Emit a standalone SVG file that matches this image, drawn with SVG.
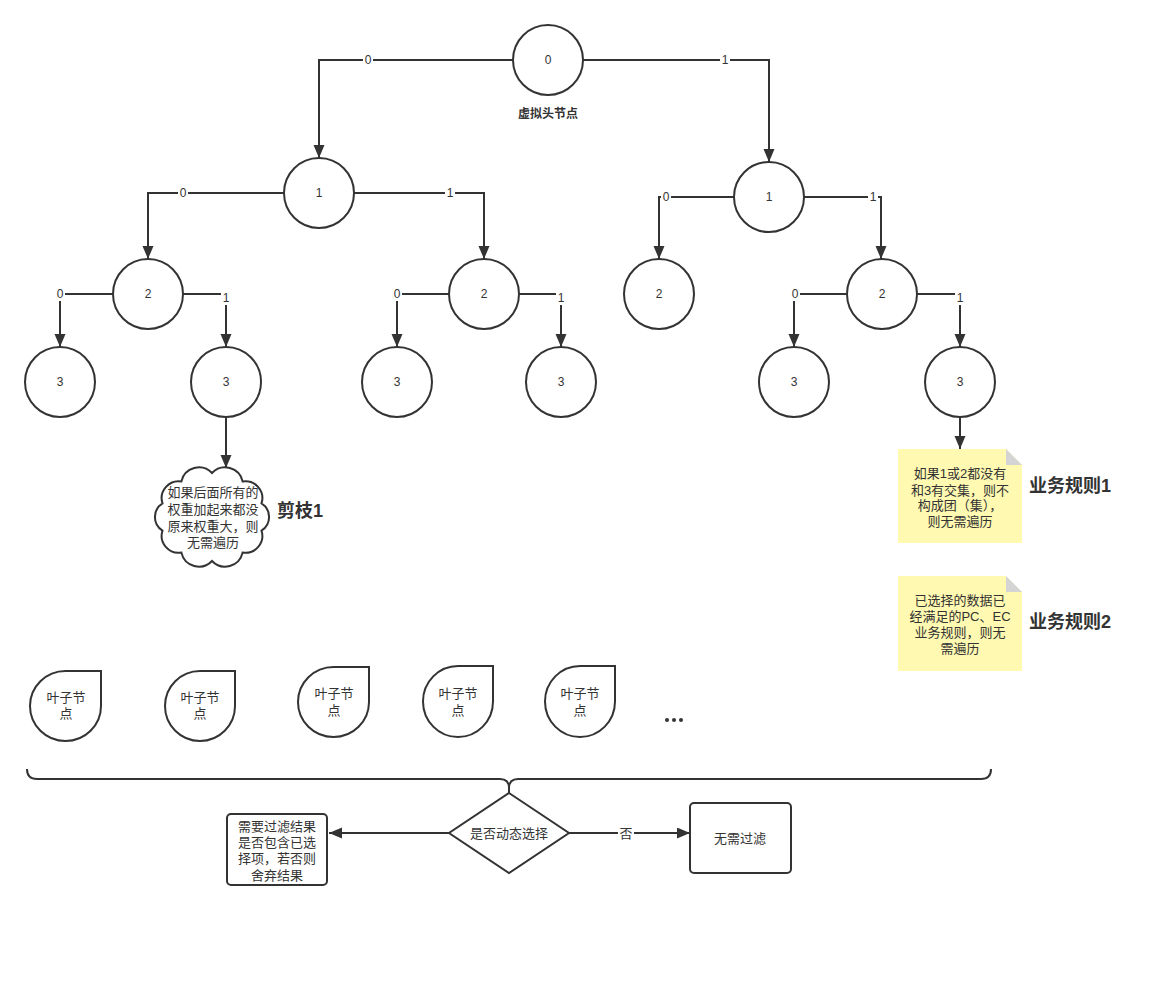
<svg xmlns="http://www.w3.org/2000/svg" width="1156" height="997" viewBox="0 0 1156 997">
<defs>
<style>
text{font-family:"Liberation Sans","Noto Sans CJK SC",sans-serif;fill:#333;dominant-baseline:central;text-anchor:middle}
.t{font-size:13px}
.n{font-size:12px}
.b{font-size:18px;font-weight:bold}
.shape{fill:#fff;stroke:#333;stroke-width:2}
.edge{fill:none;stroke:#333;stroke-width:2}
.lbl{font-size:12px}
.lb{fill:#fff}
.note{fill:#fff9b1}
.fold{fill:#d4d4d4}
</style>
<marker id="arr" markerUnits="userSpaceOnUse" markerWidth="14" markerHeight="12" refX="13" refY="5.5" orient="auto">
<path d="M0,0 L13,5.5 L0,11 Z" fill="#333"/>
</marker>
</defs>
<rect width="1156" height="997" fill="#fff"/>

<g id="connectors">
<path class="edge" d="M513,60 L319,60 L319,158" marker-end="url(#arr)"/>
<path class="edge" d="M583,60 L769,60 L769,162" marker-end="url(#arr)"/>
<path class="edge" d="M284,193 L148,193 L148,259" marker-end="url(#arr)"/>
<path class="edge" d="M354,193 L484,193 L484,259" marker-end="url(#arr)"/>
<path class="edge" d="M734,197 L659,197 L659,259" marker-end="url(#arr)"/>
<path class="edge" d="M804,197 L881,197 L881,259" marker-end="url(#arr)"/>
<path class="edge" d="M113,294 L60,294 L60,347" marker-end="url(#arr)"/>
<path class="edge" d="M183,294 L226,294 L226,347" marker-end="url(#arr)"/>
<path class="edge" d="M449,294 L397,294 L397,347" marker-end="url(#arr)"/>
<path class="edge" d="M519,294 L561,294 L561,347" marker-end="url(#arr)"/>
<path class="edge" d="M847,294 L794,294 L794,347" marker-end="url(#arr)"/>
<path class="edge" d="M917,294 L960,294 L960,347" marker-end="url(#arr)"/>
<path class="edge" d="M226,417 L226,468" marker-end="url(#arr)"/>
<path class="edge" d="M960,417 L960,449" marker-end="url(#arr)"/>
<path class="edge" d="M449,833 L329,833" marker-end="url(#arr)"/>
<path class="edge" d="M569,833 L690,833" marker-end="url(#arr)"/>
<g id="edge-labels">
<rect class="lb" x="363" y="53" width="10" height="14"/><text class="lbl" x="368" y="60">0</text>
<rect class="lb" x="720" y="53" width="10" height="14"/><text class="lbl" x="725" y="60">1</text>
<rect class="lb" x="178" y="186" width="10" height="14"/><text class="lbl" x="183" y="193">0</text>
<rect class="lb" x="445" y="186" width="10" height="14"/><text class="lbl" x="450" y="193">1</text>
<rect class="lb" x="661" y="190" width="10" height="14"/><text class="lbl" x="666" y="197">0</text>
<rect class="lb" x="868" y="190" width="10" height="14"/><text class="lbl" x="873" y="197">1</text>
<rect class="lb" x="55" y="287" width="10" height="14"/><text class="lbl" x="60" y="294">0</text>
<rect class="lb" x="221" y="291" width="10" height="14"/><text class="lbl" x="226" y="298">1</text>
<rect class="lb" x="392" y="287" width="10" height="14"/><text class="lbl" x="397" y="294">0</text>
<rect class="lb" x="556" y="291" width="10" height="14"/><text class="lbl" x="561" y="298">1</text>
<rect class="lb" x="790" y="287" width="10" height="14"/><text class="lbl" x="795" y="294">0</text>
<rect class="lb" x="955" y="291" width="10" height="14"/><text class="lbl" x="960" y="298">1</text>
<rect class="lb" x="618" y="825" width="16" height="16"/><text class="t" x="626" y="833">否</text>
</g>
</g>

<g id="n0"><circle class="shape" cx="548" cy="60" r="35"/><text class="n" x="548" y="60">0</text></g>
<g id="n0-label"><text x="548" y="114" style="font-size:12px;font-weight:bold">虚拟头节点</text></g>
<g id="n1a"><circle class="shape" cx="319" cy="193" r="35"/><text class="n" x="319" y="193">1</text></g>
<g id="n1b"><circle class="shape" cx="769" cy="197" r="35"/><text class="n" x="769" y="197">1</text></g>
<g id="n2a"><circle class="shape" cx="148" cy="294" r="35"/><text class="n" x="148" y="294">2</text></g>
<g id="n2b"><circle class="shape" cx="484" cy="294" r="35"/><text class="n" x="484" y="294">2</text></g>
<g id="n2c"><circle class="shape" cx="659" cy="294" r="35"/><text class="n" x="659" y="294">2</text></g>
<g id="n2d"><circle class="shape" cx="882" cy="294" r="35"/><text class="n" x="882" y="294">2</text></g>
<g id="n3a"><circle class="shape" cx="60" cy="382" r="35"/><text class="n" x="60" y="382">3</text></g>
<g id="n3b"><circle class="shape" cx="226" cy="382" r="35"/><text class="n" x="226" y="382">3</text></g>
<g id="n3c"><circle class="shape" cx="397" cy="382" r="35"/><text class="n" x="397" y="382">3</text></g>
<g id="n3d"><circle class="shape" cx="561" cy="382" r="35"/><text class="n" x="561" y="382">3</text></g>
<g id="n3e"><circle class="shape" cx="794" cy="382" r="35"/><text class="n" x="794" y="382">3</text></g>
<g id="n3f"><circle class="shape" cx="960" cy="382" r="35"/><text class="n" x="960" y="382">3</text></g>

<g id="cloud">
<path class="shape" d="M212,473 A18,18 0 0 1 242.6,481.4 A17,17 0 0 1 261.5,503.4 A16,16 0 0 1 261.5,530.6 A17,17 0 0 1 242.6,552.6 A18,18 0 0 1 212,561 A18,18 0 0 1 181.4,552.6 A17,17 0 0 1 162.5,530.6 A16,16 0 0 1 162.5,503.4 A17,17 0 0 1 181.4,481.4 A18,18 0 0 1 212,473 Z"/>
<text class="t" x="213" y="492">如果后面所有的</text>
<text class="t" x="213" y="509">权重加起来都没</text>
<text class="t" x="213" y="526">原来权重大，则</text>
<text class="t" x="213" y="542">无需遍历</text>
</g>
<g id="prune1"><text class="b" x="300" y="511">剪枝1</text></g>

<g id="note1">
<path class="note" d="M898,449 L1006,449 L1022,465 L1022,543 L898,543 Z"/>
<path class="fold" d="M1006,449 L1022,465 L1006,465 Z"/>
<text class="t" x="960" y="473">如果1或2都没有</text>
<text class="t" x="960" y="490">和3有交集，则不</text>
<text class="t" x="960" y="505">构成团（集），</text>
<text class="t" x="960" y="521">则无需遍历</text>
</g>
<g id="rule1"><text class="b" x="1070" y="486">业务规则1</text></g>

<g id="note2">
<path class="note" d="M898,576 L1006,576 L1022,592 L1022,671 L898,671 Z"/>
<path class="fold" d="M1006,576 L1022,592 L1006,592 Z"/>
<text class="t" x="960" y="600">已选择的数据已</text>
<text class="t" x="960" y="616">经满足的PC、EC</text>
<text class="t" x="960" y="632">业务规则，则无</text>
<text class="t" x="960" y="648">需遍历</text>
</g>
<g id="rule2"><text class="b" x="1070" y="622">业务规则2</text></g>

<g id="leaf1"><path class="shape" d="M101,671 L101,706 A35.5,35 0 0 1 65.5,741 A35.5,35 0 0 1 30,706 A35.5,35 0 0 1 65.5,671 Z"/><text class="t" x="66" y="697">叶子节</text><text class="t" x="66" y="713">点</text></g>
<g id="leaf2"><path class="shape" d="M235,671 L235,706 A35,35 0 0 1 200,741 A35,35 0 0 1 165,706 A35,35 0 0 1 200,671 Z"/><text class="t" x="200" y="697">叶子节</text><text class="t" x="200" y="713">点</text></g>
<g id="leaf3"><path class="shape" d="M369,667 L369,702 A35.5,35 0 0 1 333.5,737 A35.5,35 0 0 1 298,702 A35.5,35 0 0 1 333.5,667 Z"/><text class="t" x="334" y="693">叶子节</text><text class="t" x="334" y="710">点</text></g>
<g id="leaf4"><path class="shape" d="M493,666 L493,701.5 A35,35.5 0 0 1 458,737 A35,35.5 0 0 1 423,701.5 A35,35.5 0 0 1 458,666 Z"/><text class="t" x="458" y="693">叶子节</text><text class="t" x="458" y="710">点</text></g>
<g id="leaf5"><path class="shape" d="M615,666 L615,701.5 A35,35.5 0 0 1 580,737 A35,35.5 0 0 1 545,701.5 A35,35.5 0 0 1 580,666 Z"/><text class="t" x="580" y="693">叶子节</text><text class="t" x="580" y="710">点</text></g>
<g id="ellipsis"><circle cx="667" cy="720" r="2" fill="#333"/><circle cx="674" cy="720" r="2" fill="#333"/><circle cx="681" cy="720" r="2" fill="#333"/></g>

<g id="brace"><path class="edge" d="M27,769 Q27,779 37,779 L500,779 Q509,779 509,788 L509,793 M509,788 Q509,779 518,779 L981,779 Q991,779 991,769"/></g>

<g id="decision"><path class="shape" d="M509,793 L569,833 L509,873 L449,833 Z"/><text class="t" x="509" y="833">是否动态选择</text></g>
<g id="filter"><rect class="shape" x="227" y="814" width="100" height="71" rx="4"/>
<text class="t" x="277" y="826">需要过滤结果</text>
<text class="t" x="277" y="842">是否包含已选</text>
<text class="t" x="277" y="858">择项，若否则</text>
<text class="t" x="277" y="875">舍弃结果</text></g>
<g id="nofilter"><rect class="shape" x="690" y="803" width="101" height="70" rx="4"/><text class="t" x="740" y="838">无需过滤</text></g>
</svg>
